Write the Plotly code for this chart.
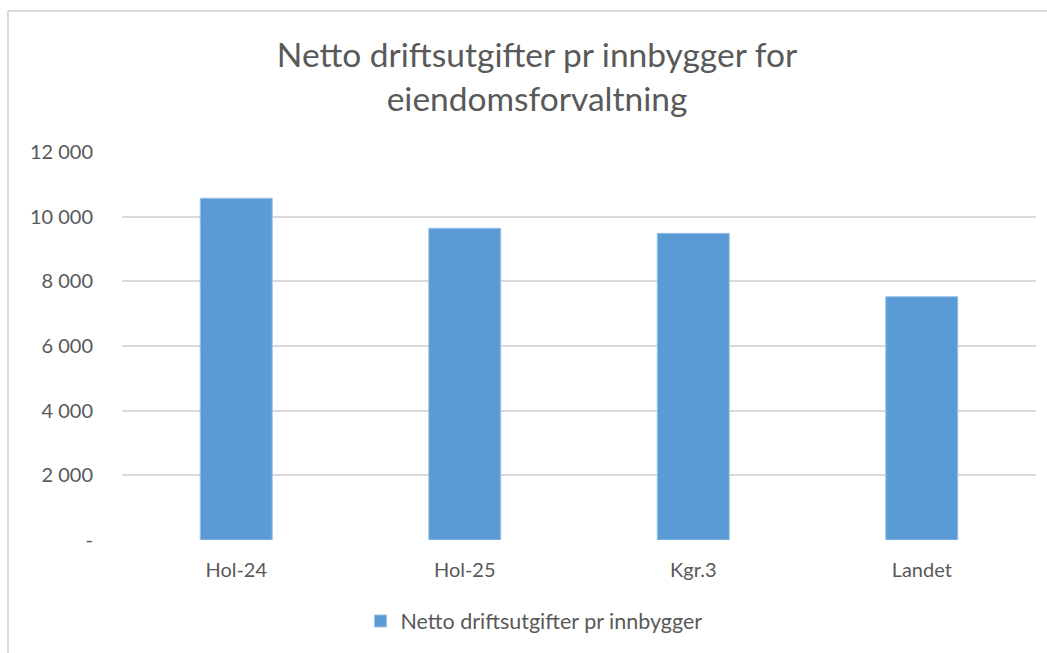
import plotly.graph_objects as go

categories = ["Hol-24", "Hol-25", "Kgr.3", "Landet"]
values = [10570, 9640, 9485, 7525]
series_name = "Netto driftsutgifter pr innbygger"
title_text = "Netto driftsutgifter pr innbygger for<br>eiendomsforvaltning"
tick_vals = [0, 2000, 4000, 6000, 8000, 10000, 12000]
tick_text = ["-", "2 000", "4 000", "6 000", "8 000", "10 000", "12 000"]

W, H = 1047, 653
L, R, T, B = 122, 11, 152, 113
pw, ph = W - L - R, H - T - B

txt = "#595959"
font = "Lato, 'Open Sans', sans-serif"

fig = go.Figure()
fig.add_trace(go.Bar(
    x=categories, y=values, name=series_name,
    marker=dict(color="#5B9BD5", line=dict(color="#9DC3E6", width=1)),
    width=0.315, showlegend=True,
))

# outer chart-area border (left and top edges visible)
bx = (8 - L) / pw
by = (H - B - 11) / ph
fig.add_shape(type="line", xref="paper", yref="paper", x0=bx, x1=bx, y0=by, y1=-2,
              line=dict(color="#D9D9D9", width=2))
fig.add_shape(type="line", xref="paper", yref="paper", x0=bx, x1=2, y0=by, y1=by,
              line=dict(color="#D9D9D9", width=2))

fig.update_layout(
    width=W, height=H,
    margin=dict(l=L, r=R, t=T, b=B),
    paper_bgcolor="white", plot_bgcolor="white",
    font=dict(family=font, color=txt, size=20),
    title=dict(text=title_text, x=537 / W, xanchor="center", xref="container",
               y=1 - 67 / H, yanchor="middle", yref="container",
               font=dict(size=33.5, color=txt, family=font)),
    xaxis=dict(showgrid=False, showline=False, ticks="outside", ticklen=12,
               tickcolor="rgba(0,0,0,0)", tickfont=dict(size=20, color=txt),
               range=[-0.5, 3.5]),
    yaxis=dict(range=[0, 12000], tickvals=tick_vals, ticktext=tick_text,
               showgrid=True, gridcolor="#D9D9D9", gridwidth=1.5,
               zeroline=False, showline=False, ticks="outside", ticklen=24,
               tickcolor="rgba(0,0,0,0)", tickfont=dict(size=20, color=txt)),
    legend=dict(orientation="h", x=534 / W, xanchor="center", xref="container",
                y=1 - 621 / H, yanchor="middle", yref="container",
                font=dict(size=21.5, color=txt)),
    bargap=0.685,
)

fig.write_html("out.html", config={"displayModeBar": False},
               post_script="document.body.style.margin='0';")
